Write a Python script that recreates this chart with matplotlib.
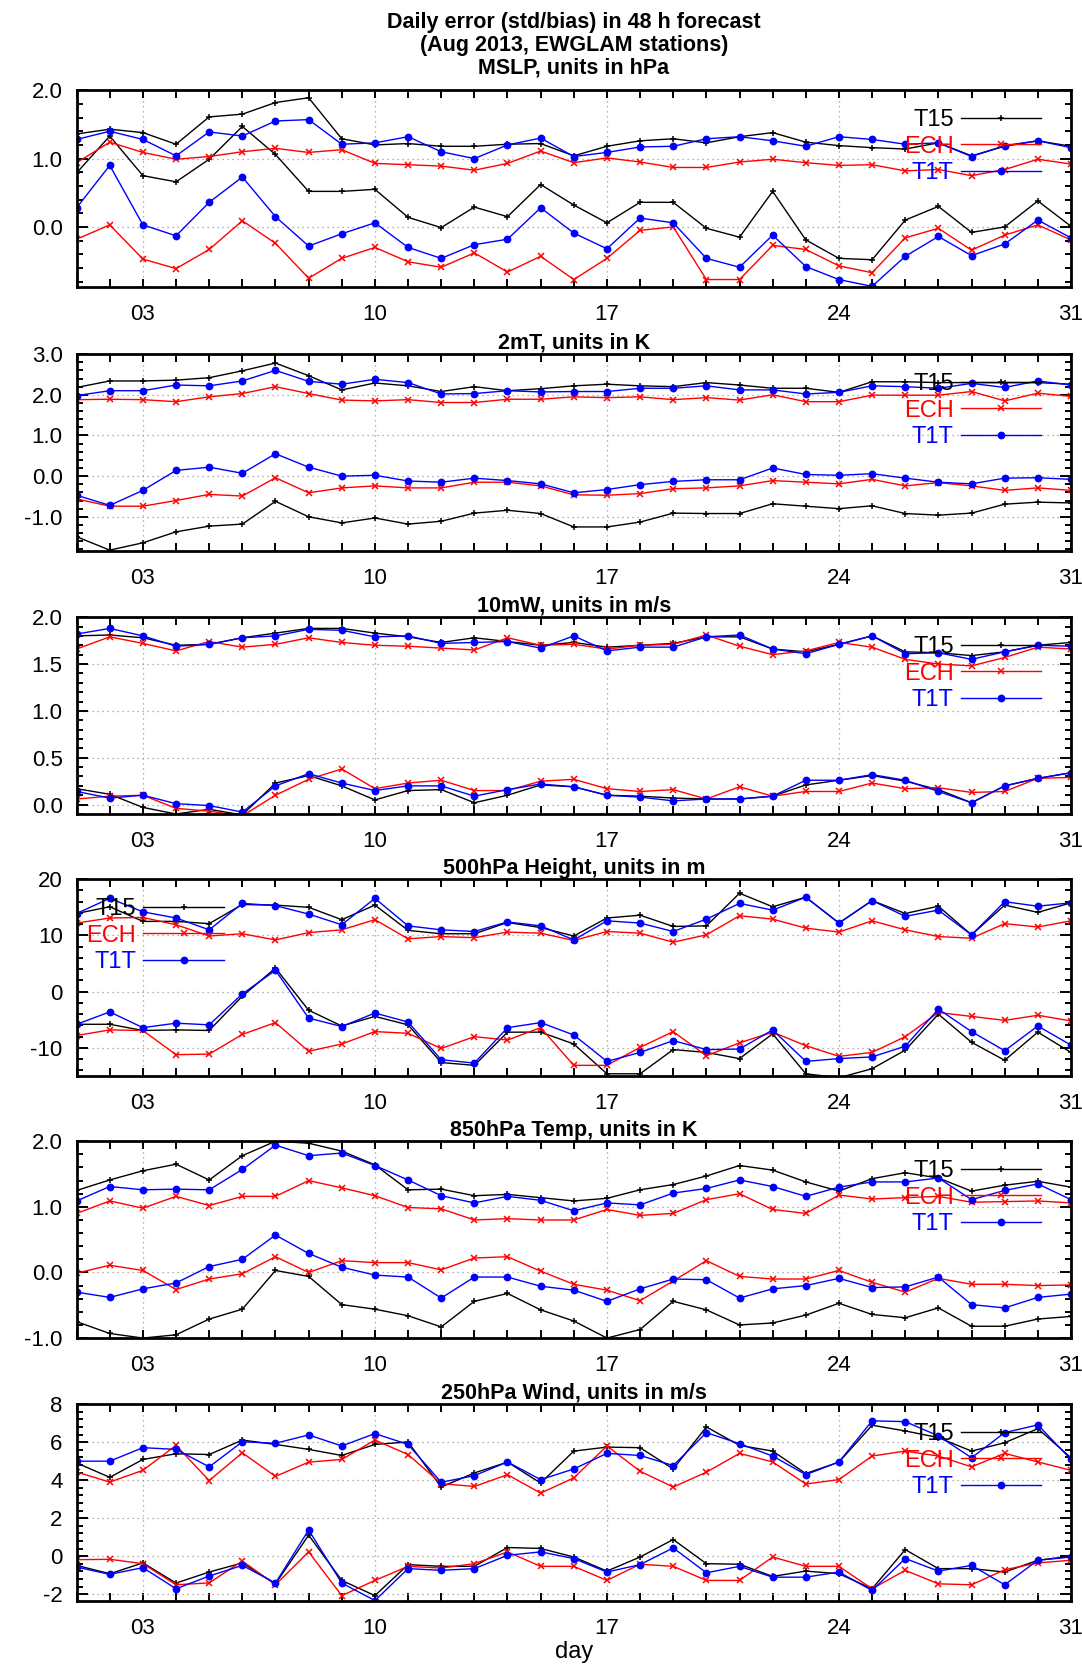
import numpy as np
import matplotlib.pyplot as plt
from matplotlib.ticker import MultipleLocator, AutoMinorLocator, FormatStrFormatter

plt.rcParams['font.family'] = ['Liberation Sans', 'DejaVu Sans']

days = np.arange(1, 32)
day_ticks = [3, 10, 17, 24, 31]
models = ['T15', 'ECH', 'T1T']

#%%-----MSLP-------------------------------------------------------------------
mslp_t15_std = [1.36, 1.43, 1.38, 1.21, 1.61, 1.65, 1.82, 1.89, 1.29, 1.20, 1.22, 1.18, 1.18, 1.21, 1.22, 1.04,
                1.18, 1.26, 1.29, 1.23, 1.32, 1.38, 1.24, 1.19, 1.16, 1.14, 1.23, 1.04, 1.18, 1.26, 1.18]
mslp_ech_std = [0.94, 1.24, 1.09, 0.99, 1.03, 1.10, 1.15, 1.09, 1.13, 0.93, 0.91, 0.89, 0.83, 0.93, 1.11, 0.94,
                1.01, 0.95, 0.87, 0.87, 0.95, 0.99, 0.94, 0.90, 0.91, 0.82, 0.84, 0.75, 0.84, 0.99, 0.92]
mslp_t1t_std = [1.28, 1.40, 1.28, 1.04, 1.39, 1.33, 1.55, 1.57, 1.21, 1.23, 1.32, 1.10, 1.00, 1.20, 1.30, 1.03,
                1.09, 1.17, 1.18, 1.29, 1.32, 1.26, 1.18, 1.32, 1.28, 1.21, 1.23, 1.03, 1.19, 1.26, 1.16]
mslp_t15_bias = [0.79, 1.33, 0.75, 0.66, 0.99, 1.47, 1.06, 0.52, 0.52, 0.55, 0.14, -0.01, 0.29, 0.15, 0.62, 0.32,
                 0.06, 0.36, 0.36, -0.02, -0.15, 0.52, -0.19, -0.46, -0.48, 0.10, 0.30, -0.08, 0.00, 0.38, 0.01]
mslp_ech_bias = [-0.18, 0.03, -0.47, -0.61, -0.33, 0.09, -0.24, -0.75, -0.46, -0.30, -0.51, -0.59, -0.38, -0.66,
                 -0.43, -0.77, -0.46, -0.05, 0.00, -0.77, -0.77, -0.27, -0.33, -0.57, -0.67, -0.16, -0.02, -0.34,
                 -0.12, 0.03, -0.19]
mslp_t1t_bias = [0.28, 0.90, 0.03, -0.13, 0.36, 0.73, 0.15, -0.28, -0.10, 0.06, -0.30, -0.46, -0.26, -0.18, 0.28,
                 -0.09, -0.32, 0.13, 0.06, -0.46, -0.59, -0.12, -0.58, -0.77, -0.87, -0.43, -0.14, -0.42, -0.25,
                 0.10, -0.16]

#%%-----2mT--------------------------------------------------------------------
t2m_t15_std = [2.18, 2.34, 2.34, 2.36, 2.42, 2.59, 2.78, 2.47, 2.12, 2.29, 2.22, 2.08, 2.20, 2.10, 2.15, 2.22,
               2.26, 2.22, 2.20, 2.30, 2.24, 2.16, 2.16, 2.06, 2.32, 2.32, 2.30, 2.30, 2.30, 2.30, 2.26]
t2m_ech_std = [1.88, 1.89, 1.88, 1.83, 1.95, 2.03, 2.20, 2.03, 1.87, 1.85, 1.88, 1.81, 1.81, 1.89, 1.89, 1.95,
               1.93, 1.95, 1.88, 1.93, 1.87, 2.00, 1.83, 1.83, 1.99, 1.99, 1.99, 2.08, 1.85, 2.04, 1.96]
t2m_t1t_std = [1.98, 2.10, 2.10, 2.24, 2.22, 2.34, 2.60, 2.33, 2.26, 2.38, 2.30, 2.02, 2.03, 2.10, 2.07, 2.08,
               2.08, 2.16, 2.16, 2.22, 2.12, 2.12, 2.02, 2.06, 2.22, 2.20, 2.16, 2.28, 2.18, 2.34, 2.24]
t2m_t15_bias = [-1.49, -1.82, -1.64, -1.37, -1.23, -1.18, -0.62, -1.00, -1.15, -1.03, -1.18, -1.11, -0.91, -0.84,
                -0.92, -1.25, -1.25, -1.13, -0.91, -0.92, -0.92, -0.68, -0.74, -0.80, -0.73, -0.92, -0.96, -0.91,
                -0.69, -0.64, -0.66]
t2m_ech_bias = [-0.56, -0.74, -0.74, -0.60, -0.45, -0.49, -0.04, -0.41, -0.29, -0.24, -0.29, -0.29, -0.15, -0.15,
                -0.24, -0.46, -0.47, -0.43, -0.31, -0.29, -0.24, -0.11, -0.15, -0.19, -0.08, -0.24, -0.16, -0.24,
                -0.35, -0.29, -0.35]
t2m_t1t_bias = [-0.47, -0.72, -0.35, 0.14, 0.22, 0.07, 0.55, 0.22, 0.00, 0.02, -0.12, -0.15, -0.05, -0.11, -0.19,
                -0.41, -0.33, -0.21, -0.13, -0.09, -0.09, 0.20, 0.04, 0.02, 0.06, -0.05, -0.15, -0.19, -0.05,
                -0.04, -0.08]

#%%-----10mW-------------------------------------------------------------------
w10_t15_std = [1.80, 1.81, 1.78, 1.70, 1.71, 1.78, 1.83, 1.88, 1.88, 1.83, 1.79, 1.73, 1.78, 1.74, 1.70, 1.73,
               1.68, 1.70, 1.72, 1.79, 1.79, 1.66, 1.63, 1.71, 1.80, 1.63, 1.62, 1.59, 1.63, 1.70, 1.73]
w10_ech_std = [1.66, 1.79, 1.72, 1.64, 1.74, 1.68, 1.71, 1.78, 1.73, 1.70, 1.69, 1.67, 1.65, 1.78, 1.70, 1.71,
               1.66, 1.70, 1.71, 1.81, 1.69, 1.60, 1.64, 1.73, 1.68, 1.55, 1.50, 1.48, 1.57, 1.68, 1.66]
w10_t1t_std = [1.82, 1.88, 1.80, 1.69, 1.71, 1.78, 1.80, 1.87, 1.86, 1.79, 1.80, 1.72, 1.73, 1.74, 1.67, 1.80,
               1.64, 1.68, 1.68, 1.79, 1.81, 1.66, 1.61, 1.71, 1.80, 1.61, 1.62, 1.55, 1.63, 1.70, 1.69]
w10_t15_bias = [0.17, 0.11, -0.03, -0.10, -0.05, -0.11, 0.23, 0.31, 0.20, 0.05, 0.15, 0.16, 0.02, 0.10, 0.21, 0.19,
                0.10, 0.09, 0.07, 0.06, 0.06, 0.09, 0.21, 0.26, 0.31, 0.25, 0.16, 0.02, 0.20, 0.28, 0.34]
w10_ech_bias = [0.06, 0.09, 0.10, -0.04, -0.07, -0.12, 0.10, 0.27, 0.38, 0.17, 0.23, 0.26, 0.15, 0.15, 0.25, 0.27,
                0.17, 0.14, 0.16, 0.06, 0.19, 0.09, 0.14, 0.14, 0.23, 0.17, 0.18, 0.13, 0.14, 0.28, 0.29]
w10_t1t_bias = [0.14, 0.07, 0.10, 0.01, -0.01, -0.08, 0.20, 0.33, 0.23, 0.15, 0.20, 0.20, 0.09, 0.16, 0.22, 0.19,
                0.10, 0.08, 0.04, 0.06, 0.06, 0.09, 0.26, 0.26, 0.32, 0.26, 0.14, 0.02, 0.20, 0.28, 0.34]

#%%-----500hPa height----------------------------------------------------------
z500_t15_std = [13.9, 15.1, 12.5, 12.5, 12.1, 15.5, 15.4, 15.0, 12.8, 15.4, 10.9, 10.3, 10.3, 12.3, 11.4, 9.9,
                13.1, 13.6, 11.6, 11.7, 17.5, 15.1, 16.8, 12.2, 16.2, 13.9, 15.2, 10.1, 15.4, 14.1, 15.8]
z500_ech_std = [12.2, 13.1, 13.2, 11.9, 9.9, 10.3, 9.2, 10.5, 11.0, 12.8, 9.4, 9.8, 9.6, 10.6, 10.4, 9.1,
                10.7, 10.4, 8.8, 10.1, 13.5, 12.9, 11.3, 10.6, 12.6, 11.0, 9.8, 9.5, 12.1, 11.5, 12.6]
z500_t1t_std = [13.9, 16.6, 14.2, 13.1, 11.0, 15.7, 15.3, 13.8, 11.9, 16.6, 11.7, 11.0, 10.7, 12.4, 11.7, 9.2,
                12.6, 12.2, 10.7, 12.9, 15.7, 14.5, 16.8, 12.2, 16.2, 13.4, 14.5, 10.1, 16.0, 15.2, 15.8]
z500_t15_bias = [-5.8, -5.8, -6.9, -6.8, -6.9, -0.8, 4.2, -3.3, -6.1, -4.4, -5.9, -12.6, -13.1, -7.2, -7.2, -9.3,
                 -14.6, -14.6, -10.3, -10.8, -11.9, -7.5, -14.6, -15.3, -13.7, -10.4, -4.0, -9.0, -12.2, -7.2, -10.8]
z500_ech_bias = [-7.8, -6.8, -6.9, -11.2, -11.1, -7.6, -5.5, -10.6, -9.3, -7.1, -7.4, -10.1, -8.0, -8.6, -6.4,
                 -13.1, -13.1, -9.9, -7.1, -11.4, -9.1, -7.2, -9.6, -11.5, -10.8, -8.0, -3.7, -4.4, -5.1, -4.2, -5.2]
z500_t1t_bias = [-5.8, -3.6, -6.4, -5.6, -5.9, -0.4, 3.8, -4.7, -6.2, -3.8, -5.4, -12.1, -12.7, -6.4, -5.5, -7.7,
                 -12.4, -10.8, -8.7, -10.3, -10.2, -6.8, -12.4, -11.9, -11.6, -9.7, -3.1, -7.1, -10.5, -6.1, -9.5]

#%%-----850hPa temp------------------------------------------------------------
t850_t15_std = [1.25, 1.41, 1.55, 1.65, 1.41, 1.78, 2.00, 1.97, 1.85, 1.64, 1.26, 1.27, 1.17, 1.19, 1.14, 1.09,
                1.13, 1.26, 1.34, 1.47, 1.63, 1.56, 1.38, 1.24, 1.43, 1.52, 1.44, 1.24, 1.33, 1.39, 1.30]
t850_ech_std = [0.90, 1.09, 0.98, 1.16, 1.02, 1.16, 1.16, 1.40, 1.29, 1.17, 0.99, 0.97, 0.80, 0.82, 0.80, 0.80,
                0.96, 0.87, 0.90, 1.11, 1.20, 0.96, 0.90, 1.18, 1.12, 1.14, 1.16, 1.07, 1.08, 1.09, 1.06]
t850_t1t_std = [1.09, 1.31, 1.26, 1.27, 1.26, 1.57, 1.94, 1.78, 1.82, 1.63, 1.41, 1.17, 1.06, 1.16, 1.10, 0.94,
                1.06, 1.03, 1.21, 1.28, 1.41, 1.31, 1.16, 1.30, 1.38, 1.38, 1.44, 1.11, 1.25, 1.35, 1.11]
t850_t15_bias = [-0.75, -0.93, -1.00, -0.95, -0.71, -0.56, 0.03, -0.06, -0.49, -0.56, -0.66, -0.83, -0.44, -0.32,
                 -0.57, -0.74, -1.00, -0.87, -0.44, -0.57, -0.80, -0.77, -0.65, -0.47, -0.64, -0.69, -0.54, -0.82,
                 -0.82, -0.71, -0.67]
t850_ech_bias = [-0.01, 0.11, 0.03, -0.26, -0.10, -0.02, 0.24, 0.00, 0.18, 0.15, 0.15, 0.04, 0.22, 0.24, 0.02,
                 -0.18, -0.27, -0.43, -0.13, 0.18, -0.06, -0.10, -0.10, 0.03, -0.15, -0.30, -0.09, -0.18, -0.18,
                 -0.20, -0.19]
t850_t1t_bias = [-0.30, -0.38, -0.25, -0.16, 0.09, 0.20, 0.57, 0.29, 0.08, -0.04, -0.07, -0.39, -0.07, -0.07, -0.21,
                 -0.27, -0.44, -0.25, -0.10, -0.11, -0.39, -0.25, -0.20, -0.09, -0.23, -0.22, -0.07, -0.49, -0.54,
                 -0.38, -0.33]

#%%-----250hPa wind------------------------------------------------------------
w250_t15_std = [4.91, 4.15, 5.09, 5.39, 5.35, 6.11, 5.88, 5.62, 5.30, 5.88, 6.01, 3.64, 4.38, 4.95, 3.85, 5.53,
                5.74, 5.71, 4.59, 6.80, 5.83, 5.53, 4.35, 4.95, 6.89, 6.59, 6.24, 5.53, 5.97, 6.71, 5.18]
w250_ech_std = [4.43, 3.90, 4.52, 5.83, 3.98, 5.44, 4.20, 4.95, 5.09, 6.11, 5.35, 3.82, 3.67, 4.29, 3.32, 4.12,
                5.80, 4.47, 3.64, 4.42, 5.41, 4.96, 3.80, 4.03, 5.27, 5.53, 5.27, 4.70, 5.41, 4.96, 4.52]
w250_t1t_std = [5.00, 5.00, 5.71, 5.62, 4.70, 6.02, 5.94, 6.38, 5.80, 6.45, 5.88, 3.89, 4.24, 4.96, 4.03, 4.59,
                5.41, 5.30, 4.77, 6.50, 5.92, 5.27, 4.29, 4.96, 7.12, 7.08, 6.33, 5.18, 6.50, 6.91, 5.09]
w250_t15_bias = [-0.48, -0.92, -0.35, -1.41, -0.83, -0.35, -1.45, 1.11, -1.27, -2.07, -0.44, -0.53, -0.53, 0.46,
                 0.41, -0.04, -0.78, -0.04, 0.88, -0.39, -0.42, -1.06, -0.78, -0.92, -1.71, 0.35, -0.65, -0.65,
                 -0.83, -0.21, 0.00]
w250_ech_bias = [-0.18, -0.16, -0.39, -1.50, -1.40, -0.25, -1.50, 0.23, -2.07, -1.27, -0.53, -0.62, -0.39, 0.23,
                 -0.53, -0.53, -1.27, -0.42, -0.53, -1.27, -1.27, -0.04, -0.53, -0.53, -1.71, -0.74, -1.45, -1.50,
                 -0.71, -0.35, -0.21]
w250_t1t_bias = [-0.57, -0.95, -0.60, -1.71, -1.04, -0.48, -1.41, 1.38, -1.41, -2.33, -0.65, -0.74, -0.65, 0.05,
                 0.23, -0.12, -0.83, -0.44, 0.44, -0.87, -0.53, -1.10, -1.10, -0.83, -1.80, -0.12, -0.78, -0.48,
                 -1.50, -0.21, -0.04]

#%%-----Graphs-----------------------------------------------------------------
colors = {'T15': 'black', 'ECH': 'red', 'T1T': 'blue'}
markers = {'T15': '+', 'ECH': 'x', 'T1T': 'o'}
msizes = {'T15': 5, 'ECH': 4.5, 'T1T': 4.5}

panels = [
    ('Daily error (std/bias) in 48 h forecast\n(Aug 2013, EWGLAM stations)\nMSLP, units in hPa',
     (-0.88, 2.0), 1.0, '%.1f', [mslp_t15_std, mslp_ech_std, mslp_t1t_std],
     [mslp_t15_bias, mslp_ech_bias, mslp_t1t_bias], 'right'),
    ('2mT, units in K', (-1.84, 3.0), 1.0, '%.1f', [t2m_t15_std, t2m_ech_std, t2m_t1t_std],
     [t2m_t15_bias, t2m_ech_bias, t2m_t1t_bias], 'right'),
    ('10mW, units in m/s', (-0.1, 2.0), 0.5, '%.1f', [w10_t15_std, w10_ech_std, w10_t1t_std],
     [w10_t15_bias, w10_ech_bias, w10_t1t_bias], 'right'),
    ('500hPa Height, units in m', (-15, 20), 10, '%d', [z500_t15_std, z500_ech_std, z500_t1t_std],
     [z500_t15_bias, z500_ech_bias, z500_t1t_bias], 'left'),
    ('850hPa Temp, units in K', (-1.0, 2.0), 1.0, '%.1f', [t850_t15_std, t850_ech_std, t850_t1t_std],
     [t850_t15_bias, t850_ech_bias, t850_t1t_bias], 'right'),
    ('250hPa Wind, units in m/s', (-2.35, 8), 2, '%d', [w250_t15_std, w250_ech_std, w250_t1t_std],
     [w250_t15_bias, w250_ech_bias, w250_t1t_bias], 'right'),
]

bottoms = [0.8279, 0.6697, 0.5120, 0.3549, 0.1978, 0.0402]

fig = plt.figure(figsize=(10.82, 16.68), dpi=100)

for i, (title, ylim, ystep, fmt, stds, biases, side) in enumerate(panels):
    ax = fig.add_axes([0.0708, bottoms[i], 0.919, 0.118])
    for m, s, b in zip(models, stds, biases):
        kw = dict(color=colors[m], marker=markers[m], ms=msizes[m], lw=1.0, mew=1.1)
        ax.plot(days, s, label=m, **kw)
        ax.plot(days, b, **kw)
    ax.set_xlim(1, 31)
    ax.set_ylim(*ylim)
    ax.set_xticks(day_ticks)
    ax.set_xticklabels(['%02d' % d for d in day_ticks])
    ax.xaxis.set_minor_locator(MultipleLocator(1))
    ax.yaxis.set_major_locator(MultipleLocator(ystep))
    ax.yaxis.set_minor_locator(AutoMinorLocator(5))
    ax.yaxis.set_major_formatter(FormatStrFormatter(fmt))
    ax.grid(True, which='major', color='0.6', linestyle=(0, (1, 3)), lw=0.9)
    ax.tick_params(which='both', direction='in', top=True, right=True, width=1.4, labelsize=16)
    ax.tick_params(axis='x', which='both', length=5.5, pad=12)
    ax.tick_params(axis='y', which='major', length=8, pad=10)
    ax.tick_params(axis='y', which='minor', length=4.5)
    for sp in ax.spines.values():
        sp.set_linewidth(2)
    if i == 0:
        ax.set_title(title, fontsize=15.5, fontweight='bold', pad=12, linespacing=1.1)
    else:
        ax.set_title(title, fontsize=15.5, fontweight='bold', pad=4)
    if side == 'right':
        ax.legend(loc='upper right', bbox_to_anchor=(0.97, 0.905), frameon=False, markerfirst=False,
                  labelcolor='linecolor', fontsize=17, handlelength=3.4, handletextpad=0.3,
                  labelspacing=0.2, borderpad=0, borderaxespad=0, numpoints=1)
    else:
        ax.legend(loc='upper left', bbox_to_anchor=(0.01, 0.905), frameon=False, markerfirst=False,
                  labelcolor='linecolor', fontsize=17, handlelength=3.4, handletextpad=0.3,
                  labelspacing=0.2, borderpad=0, borderaxespad=0, numpoints=1)
    if i == len(panels) - 1:
        ax.set_xlabel('day', fontsize=17, labelpad=2)

plt.savefig('out.png', dpi=100)
